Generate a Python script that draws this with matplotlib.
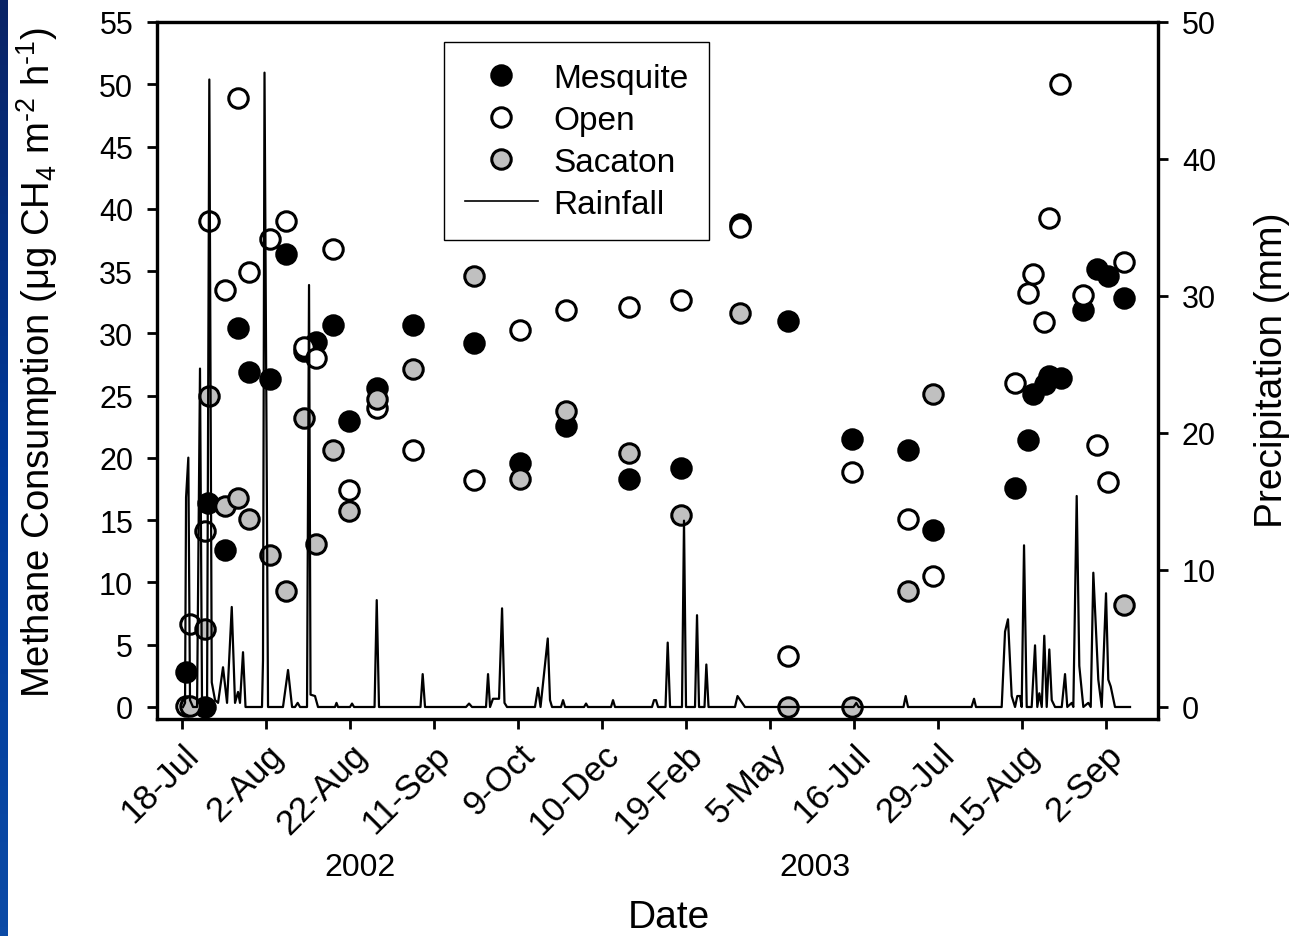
import numpy as np
import matplotlib
matplotlib.use("Agg")
import matplotlib.pyplot as plt
from matplotlib.lines import Line2D
from matplotlib.colors import LinearSegmentedColormap

plt.rcParams['font.family'] = ['Liberation Sans', 'DejaVu Sans']
plt.rcParams['mathtext.fontset'] = 'custom'
plt.rcParams['mathtext.rm'] = 'Liberation Sans'
plt.rcParams['mathtext.it'] = 'Liberation Sans'
plt.rcParams['mathtext.default'] = 'regular'

# sampling dates sit on an evenly spaced (broken) date axis: tick i -> position i
tick_labels = ['18-Jul', '2-Aug', '22-Aug', '11-Sep', '9-Oct', '10-Dec',
               '19-Feb', '5-May', '16-Jul', '29-Jul', '15-Aug', '2-Sep']
years = ['2002', '2003']
year_pos = [2.12, 7.54]

mesq_x = [0.048, 0.274, 0.310, 0.512, 0.667, 0.798, 1.048, 1.238, 1.452, 1.595,
          1.798, 1.988, 2.321, 2.750, 3.476, 4.024, 4.571, 5.321, 5.940, 6.643,
          7.214, 7.976, 8.643, 8.940, 9.917, 10.071, 10.131, 10.274, 10.321,
          10.464, 10.726, 10.893, 11.024, 11.214]
mesq_y = [2.8, 0.0, 16.4, 12.6, 30.4, 26.9, 26.3, 36.4, 28.6, 29.3,
          30.7, 23.0, 25.6, 30.7, 29.2, 19.6, 22.6, 18.3, 19.2, 38.8,
          31.0, 21.5, 20.6, 14.2, 17.6, 21.4, 25.1, 25.9, 26.6,
          26.4, 31.9, 35.2, 34.6, 32.8]

open_x = [0.048, 0.095, 0.274, 0.321, 0.512, 0.667, 0.798, 1.048, 1.238, 1.452,
          1.595, 1.798, 1.988, 2.321, 2.750, 3.476, 4.024, 4.571, 5.321, 5.940,
          6.643, 7.214, 7.976, 8.643, 8.940, 9.917, 10.071, 10.131, 10.262,
          10.321, 10.452, 10.726, 10.893, 11.024, 11.214]
open_y = [0.1, 6.7, 14.1, 39.0, 33.5, 48.9, 34.9, 37.6, 39.0, 28.9,
          28.0, 36.8, 17.4, 24.0, 20.6, 18.2, 30.3, 31.9, 32.1, 32.7,
          38.5, 4.1, 18.9, 15.1, 10.5, 26.0, 33.2, 34.8, 30.9,
          39.3, 50.0, 33.1, 21.0, 18.1, 35.7]

sac_x = [0.095, 0.274, 0.321, 0.512, 0.667, 0.798, 1.048, 1.238, 1.452, 1.595,
         1.798, 1.988, 2.321, 2.750, 3.476, 4.024, 4.571, 5.321, 5.940, 6.643,
         7.214, 7.976, 8.643, 8.940, 11.214]
sac_y = [0.1, 6.3, 25.0, 16.1, 16.8, 15.1, 12.2, 9.3, 23.2, 13.1,
         20.6, 15.7, 24.7, 27.1, 34.6, 18.3, 23.8, 20.4, 15.4, 31.6,
         0.0, 0.0, 9.3, 25.1, 8.2]

# daily rainfall (mm) on the same axis
rain_x = [0.012, 0.036, 0.048, 0.075, 0.095, 0.131, 0.179, 0.214, 0.238, 0.274,
          0.298, 0.325, 0.354, 0.393, 0.429, 0.488, 0.536, 0.592, 0.631, 0.667,
          0.690, 0.726, 0.756, 0.952, 0.964, 0.982, 1.024, 1.202, 1.262, 1.310,
          1.345, 1.377, 1.405, 1.488, 1.512, 1.530, 1.583, 1.619, 1.821, 1.839,
          1.857, 2.000, 2.024, 2.048, 2.292, 2.318, 2.345, 2.839, 2.865, 2.893,
          3.381, 3.417, 3.452, 3.619, 3.643, 3.667, 3.702, 3.774, 3.810, 3.839,
          3.869, 4.202, 4.238, 4.268, 4.354, 4.381, 4.405, 4.512, 4.536, 4.560,
          4.786, 4.810, 4.833, 5.107, 5.131, 5.155, 5.595, 5.619, 5.643, 5.667,
          5.756, 5.782, 5.810, 5.952, 5.976, 6.000, 6.107, 6.131, 6.155, 6.220,
          6.242, 6.268, 6.583, 6.613, 6.702, 7.995, 8.027, 8.054, 8.589, 8.615,
          8.643, 9.399, 9.429, 9.452, 9.758, 9.798, 9.833, 9.877, 9.917, 9.944,
          9.976, 9.996, 10.024, 10.056, 10.115, 10.155, 10.182, 10.206, 10.235, 10.265,
          10.294, 10.325, 10.354, 10.393, 10.473, 10.512, 10.539, 10.592, 10.611, 10.651,
          10.682, 10.730, 10.789, 10.818, 10.849, 10.908, 10.949, 11.000, 11.027, 11.056,
          11.107, 11.286]
rain_mm = [0, 0.3, 15.3, 18.2, 0.5, 0, 0, 24.7, 0.3, 0,
           0, 45.8, 1.8, 0.5, 0.3, 2.9, 0.3, 7.3, 0.3, 1.1,
           0.3, 4.0, 0, 0, 3.4, 46.3, 0, 0, 2.7, 0,
           0, 0.3, 0, 0, 30.8, 0.9, 0.8, 0, 0, 0.3,
           0, 0, 0.25, 0, 0, 7.8, 0, 0, 2.4, 0,
           0, 0.25, 0, 0, 2.4, 0, 0.6, 0.6, 7.2, 0.3,
           0, 0, 1.4, 0, 5.0, 0.5, 0, 0, 0.5, 0,
           0, 0.25, 0, 0, 0.5, 0, 0, 0.5, 0.5, 0,
           0, 4.7, 0, 0, 13.6, 0, 0, 6.7, 0, 0,
           3.1, 0, 0, 0.8, 0, 0, 0.3, 0, 0, 0.8,
           0, 0, 0.6, 0, 0, 5.5, 6.4, 0.8, 0, 0.8,
           0.8, 0, 11.8, 0, 0, 4.5, 0, 1.0, 0, 5.2,
           0, 4.2, 0.5, 0, 0, 2.4, 0, 0.3, 0, 15.4,
           3.0, 0, 0.3, 0, 9.8, 2.0, 0, 8.3, 2.0, 1.5,
           0, 0]

fig = plt.figure(figsize=(12.92, 9.37), dpi=100)

# slide-style blue strip on the left edge
strip = fig.add_axes([0, 0, 8 / 1292, 1])
cmap = LinearSegmentedColormap.from_list('strip', ['#0a2466', '#003a9a', '#0b4aa6'])
strip.imshow(np.linspace(0, 1, 100).reshape(-1, 1), aspect='auto', cmap=cmap)
strip.axis('off')

ax = fig.add_axes([0.1219, 0.2316, 0.7740, 0.7439])
ax2 = ax.twinx()

mk = dict(linestyle='none', marker='o', markersize=14, markeredgewidth=2.2,
          markeredgecolor='black')
ax.plot(mesq_x, mesq_y, markerfacecolor='black', **mk)
ax.plot(open_x, open_y, markerfacecolor='white', **mk)
ax.plot(sac_x, sac_y, markerfacecolor='#c0c0c0', **mk)
ax2.plot(rain_x, rain_mm, color='black', lw=1.6)

ax.set_xlim(-0.292, 11.613)
ax.set_ylim(-0.963, 55)
ax2.set_ylim(-0.876, 50)
ax.set_yticks(np.arange(0, 56, 5))
ax2.set_yticks(np.arange(0, 51, 10))
ax.set_xticks(range(len(tick_labels)))
ax.set_xticklabels(tick_labels, rotation=45, ha='right', va='top',
                   rotation_mode='anchor', fontsize=25)

for a in (ax, ax2):
    for s in a.spines.values():
        s.set_linewidth(2.3)
    a.tick_params(direction='out', length=7.5, width=2, labelsize=22, pad=10)
ax.tick_params(axis='x', pad=6, labelsize=25)

for xp, yr in zip(year_pos, years):
    ax.text(xp, -0.2123, yr, transform=ax.get_xaxis_transform(),
            ha='center', va='center', fontsize=23)

fig.text(669 / 1292, 1 - 918 / 937, 'Date', ha='center', va='center', fontsize=28)
fig.text(37 / 1292, 1 - 363 / 937,
         r'Methane Consumption (μg CH$_4$ m$^{\text{-}2}$ h$^{\text{-}1}$)',
         rotation=90, ha='center', va='center', fontsize=27.5)
fig.text(1272 / 1292, 1 - 370 / 937, 'Precipitation (mm)',
         rotation=90, ha='center', va='center', fontsize=28)

handles = [
    Line2D([], [], marker='o', ls='none', ms=14, mew=2.2, mec='black', mfc='black'),
    Line2D([], [], marker='o', ls='none', ms=14, mew=2.2, mec='black', mfc='white'),
    Line2D([], [], marker='o', ls='none', ms=14, mew=2.2, mec='black', mfc='#c0c0c0'),
    Line2D([], [], color='black', lw=1.2),
]
leg = ax2.legend(handles, ['Mesquite', 'Open', 'Sacaton', 'Rainfall'],
                 loc='upper left', bbox_to_anchor=(444 / 1292, 1 - 43 / 937),
                 bbox_transform=fig.transFigure, fontsize=24, frameon=True,
                 fancybox=False, edgecolor='black', framealpha=1,
                 handlelength=2.2, handletextpad=0.45, labelspacing=0.33,
                 borderpad=0.62, borderaxespad=0)
leg.get_frame().set_linewidth(1.0)

fig.savefig('out.png', dpi=100)
